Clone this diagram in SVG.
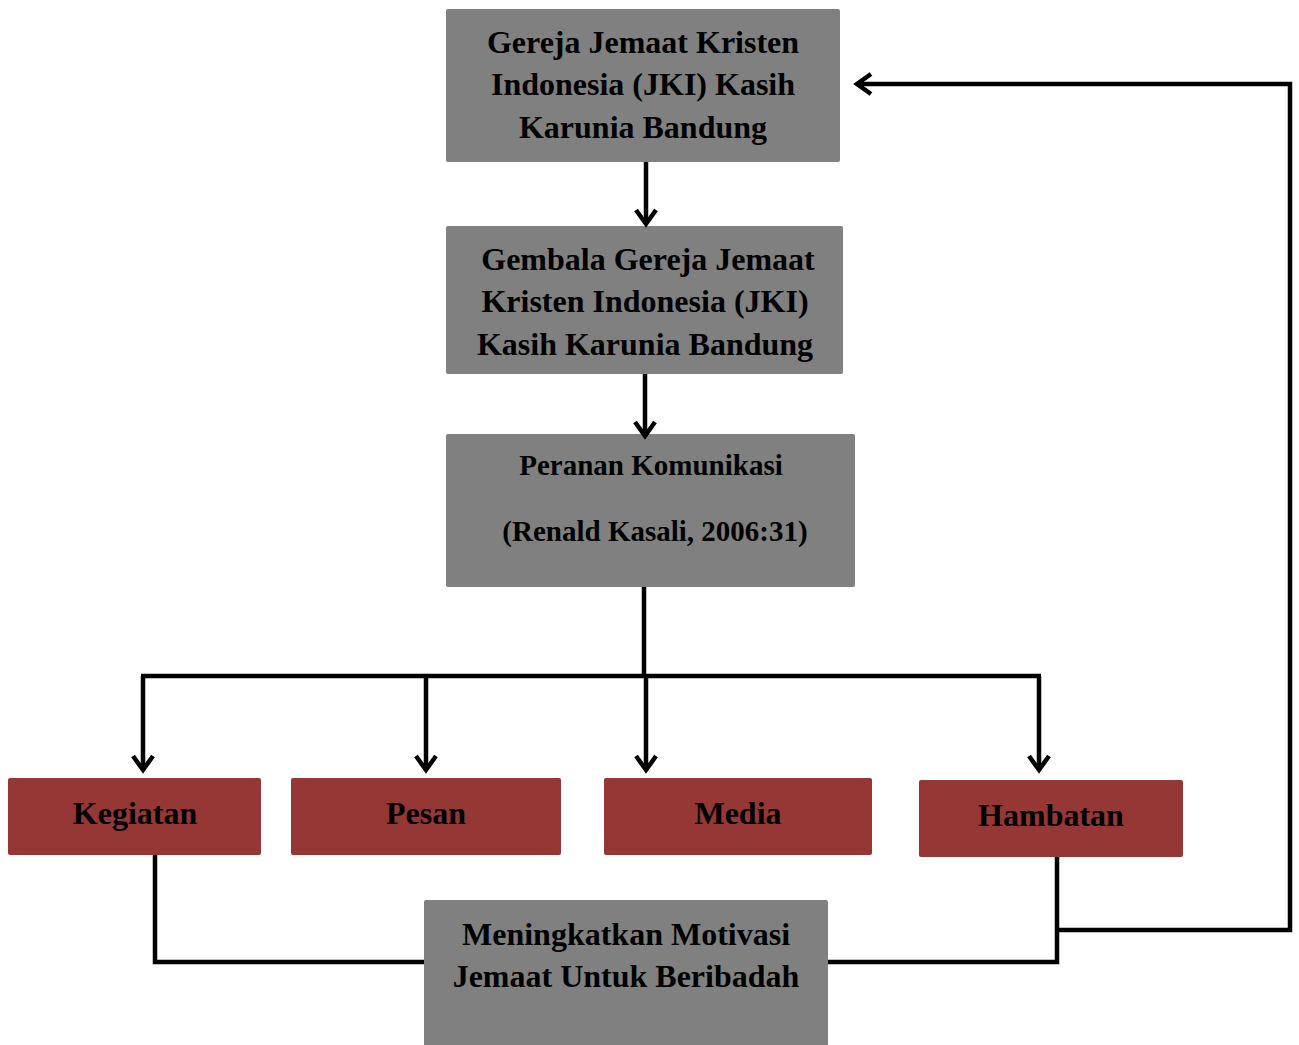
<svg xmlns="http://www.w3.org/2000/svg" width="1299" height="1045" viewBox="0 0 1299 1045">
<defs>
<style>
.g{fill:#808080;}
.r{fill:#953735;}
.t{font-family:"Liberation Serif","Times New Roman",serif;font-weight:bold;fill:#000;text-anchor:middle;}
.c{fill:none;stroke:#000;stroke-width:4.5;stroke-linejoin:miter;}
</style>
<marker id="ah" viewBox="0 0 24 24" refX="20" refY="12" markerWidth="24" markerHeight="24" markerUnits="userSpaceOnUse" orient="auto">
<path d="M6,2 L20,12 L6,22" fill="none" stroke="#000" stroke-width="4.5"/>
</marker>
</defs>
<rect width="1299" height="1045" fill="#fff"/>
<g id="n1"><rect class="g" x="446" y="9" width="394" height="153" rx="2"/>
<text class="t" font-size="32" x="643" y="53">Gereja Jemaat Kristen</text>
<text class="t" font-size="32" x="643" y="95">Indonesia (JKI) Kasih</text>
<text class="t" font-size="32" x="643" y="138">Karunia Bandung</text></g>
<g id="n2"><rect class="g" x="446" y="226" width="397" height="148" rx="2"/>
<text class="t" font-size="32" x="648" y="270">Gembala Gereja Jemaat</text>
<text class="t" font-size="32" x="645" y="312">Kristen Indonesia (JKI)</text>
<text class="t" font-size="32" x="645" y="355">Kasih Karunia Bandung</text></g>
<g id="n3"><rect class="g" x="446" y="434" width="409" height="153" rx="2"/>
<text class="t" font-size="29" x="651" y="475">Peranan Komunikasi</text>
<text class="t" font-size="29" x="655" y="541">(Renald Kasali, 2006:31)</text></g>
<g id="n4"><rect class="r" x="8" y="778" width="253" height="77" rx="2"/>
<text class="t" font-size="32" x="135" y="824">Kegiatan</text></g>
<g id="n5"><rect class="r" x="291" y="778" width="270" height="77" rx="2"/>
<text class="t" font-size="32" x="426" y="824">Pesan</text></g>
<g id="n6"><rect class="r" x="604" y="778" width="268" height="77" rx="2"/>
<text class="t" font-size="32" x="738" y="824">Media</text></g>
<g id="n7"><rect class="r" x="919" y="780" width="264" height="77" rx="2"/>
<text class="t" font-size="32" x="1051" y="826">Hambatan</text></g>
<g id="n8"><rect class="g" x="424" y="900" width="404" height="150" rx="2"/>
<text class="t" font-size="32" x="626" y="945">Meningkatkan Motivasi</text>
<text class="t" font-size="32" x="626" y="987">Jemaat Untuk Beribadah</text></g>
<g id="connectors">
<path class="c" d="M646,162 V224" marker-end="url(#ah)"/>
<path class="c" d="M645,374 V436" marker-end="url(#ah)"/>
<path class="c" d="M644,587 V676"/>
<path class="c" d="M141,676 H1041"/>
<path class="c" d="M143,676 V770" marker-end="url(#ah)"/>
<path class="c" d="M426,676 V770" marker-end="url(#ah)"/>
<path class="c" d="M646,676 V770" marker-end="url(#ah)"/>
<path class="c" d="M1039,676 V770" marker-end="url(#ah)"/>
<path class="c" d="M155,855 V962 H424"/>
<path class="c" d="M828,962 H1057 V857"/>
<path class="c" d="M1057,930 H1290 V84 H857" marker-end="url(#ah)"/>
</g>
</svg>
